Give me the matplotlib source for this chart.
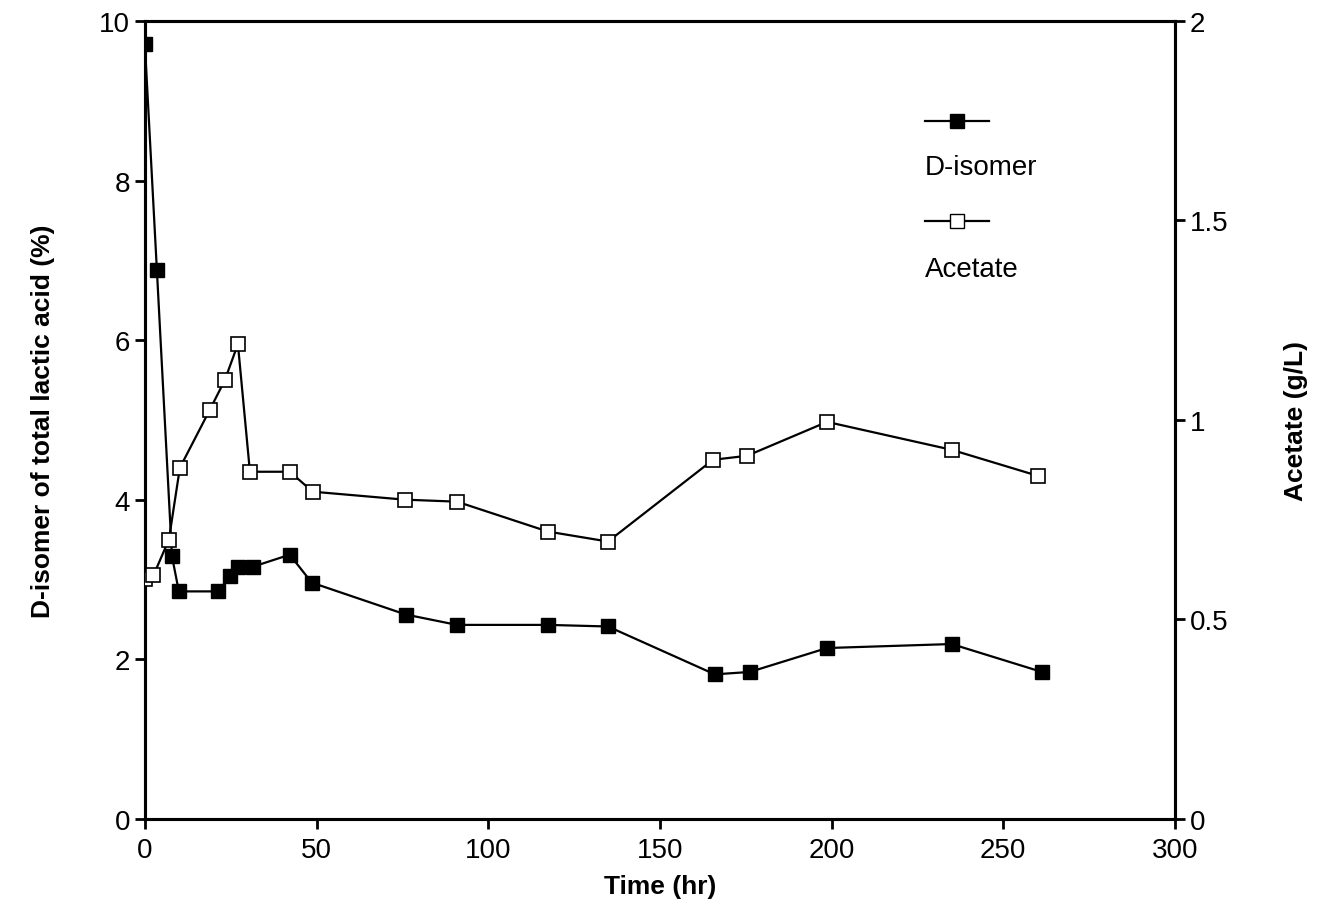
import numpy as np
import matplotlib.pyplot as plt

plt.rcParams['font.family'] = ['Liberation Sans', 'DejaVu Sans']

# D-isomer (% of total lactic acid), left axis
t_d = [0, 3.5, 7.9, 9.9, 21.3, 24.8, 27.1, 31.5, 42.2, 48.6, 76, 90.9, 117.4,
       134.9, 166, 176.2, 198.7, 235, 261.3]
d_iso = [9.71, 6.88, 3.29, 2.85, 2.85, 3.04, 3.15, 3.16, 3.31, 2.96, 2.56, 2.43,
         2.43, 2.41, 1.81, 1.84, 2.14, 2.19, 1.84]

# Acetate (g/L), right axis
t_ac = [0, 2.5, 7, 10.2, 18.9, 23.3, 27.1, 30.6, 42.2, 48.9, 75.7, 90.9, 117.4,
        134.9, 165.5, 175.4, 198.7, 235, 260]
acet = [0.60, 0.61, 0.70, 0.88, 1.025, 1.10, 1.19, 0.87, 0.87, 0.82, 0.80, 0.795,
        0.72, 0.695, 0.90, 0.91, 0.995, 0.925, 0.86]

fig = plt.figure(figsize=(13.29, 9.2), dpi=100)
ax = fig.add_axes([0.109, 0.109, 0.775, 0.867])
ax2 = ax.twinx()

ax.plot(t_d, d_iso, color='black', lw=1.6, marker='s', ms=10,
        mfc='black', mec='black', zorder=3)
ax2.plot(t_ac, acet, color='black', lw=1.6, marker='s', ms=10,
         mfc='white', mec='black', mew=1.2, zorder=3)

ax.set_xlim(0, 300)
ax.set_ylim(0, 10)
ax2.set_ylim(0, 2)
ax.set_xticks([0, 50, 100, 150, 200, 250, 300])
ax.set_yticks([0, 2, 4, 6, 8, 10])
ax2.set_yticks([0, 0.5, 1, 1.5, 2])
ax2.set_yticklabels(['0', '0.5', '1', '1.5', '2'])

for a in (ax, ax2):
    for s in a.spines.values():
        s.set_linewidth(2.2)
    a.tick_params(labelsize=20, width=2, length=7, direction='out')
ax.tick_params(axis='x', pad=6)

ax.set_xlabel('Time (hr)', fontsize=19, fontweight='bold', labelpad=8)
ax.set_ylabel('D-isomer of total lactic acid (%)', fontsize=19,
              fontweight='bold', labelpad=32)
ax2.set_ylabel('Acetate (g/L)', fontsize=19, fontweight='bold', labelpad=40)

# legend drawn by hand: handle above label
tr = ax.transAxes
ax.plot([0.757, 0.820], [0.875, 0.875], color='black', lw=1.6, transform=tr)
ax.plot([0.7885], [0.875], 's', color='black', ms=10, transform=tr)
ax.text(0.757, 0.817, 'D-isomer', fontsize=20, transform=tr, va='center')
ax.plot([0.757, 0.820], [0.749, 0.749], color='black', lw=1.6, transform=tr)
ax.plot([0.7885], [0.749], 's', mfc='white', mec='black', ms=10, transform=tr)
ax.text(0.757, 0.689, 'Acetate', fontsize=20, transform=tr, va='center')

fig.savefig('out.png', dpi=100)
